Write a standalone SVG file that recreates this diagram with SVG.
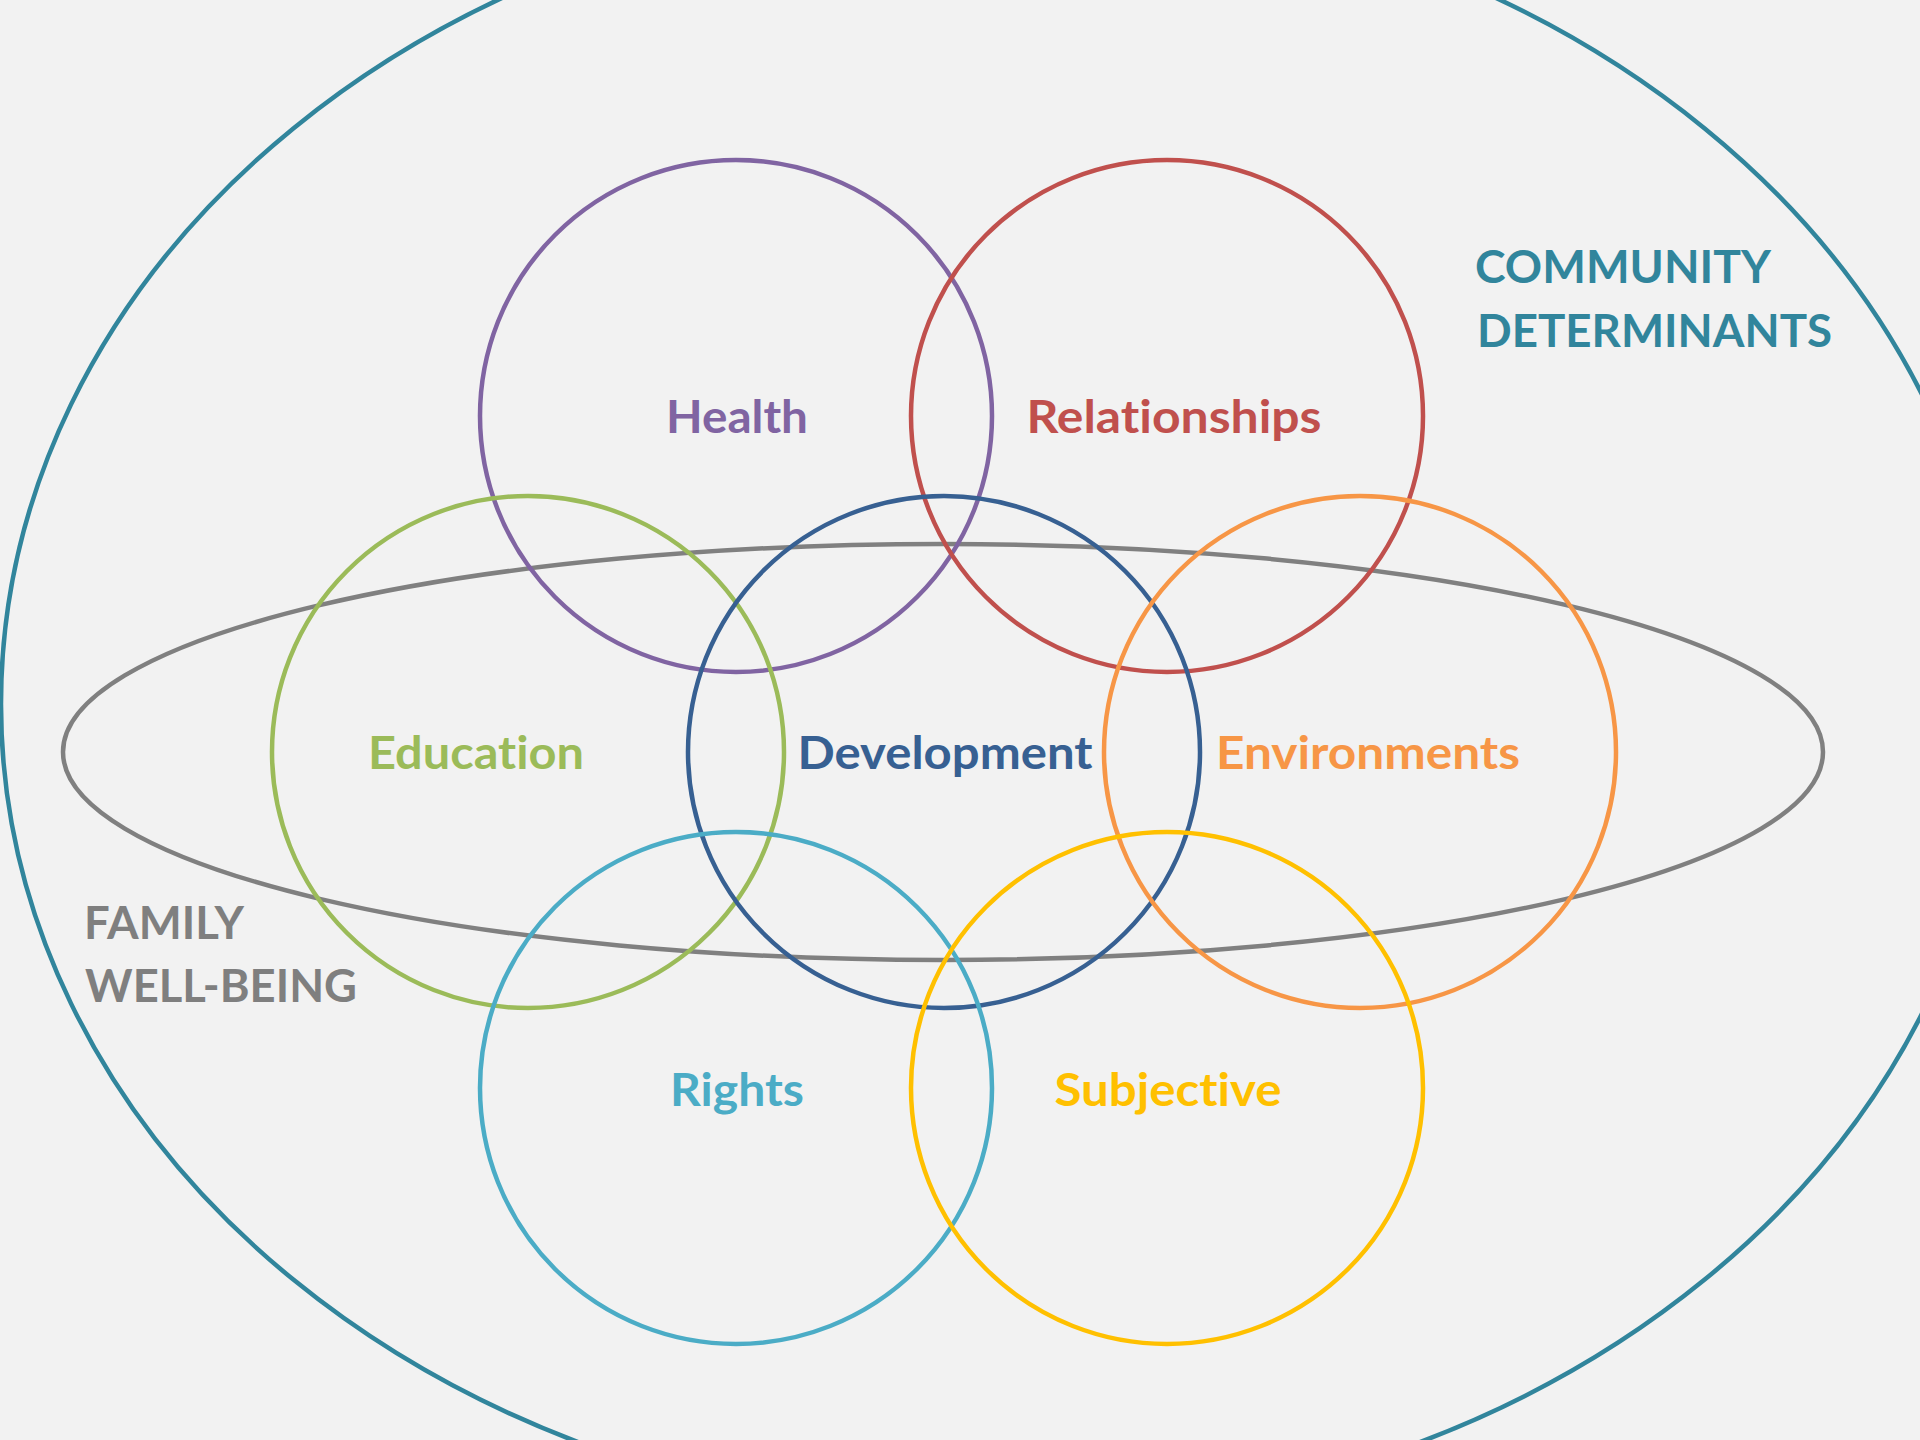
<svg xmlns="http://www.w3.org/2000/svg" width="1920" height="1440" viewBox="0 0 1920 1440">
  <style>
    .ring { fill: none; stroke-width: 4.5; }
    .lbl { font-family: Lato, "Open Sans", "Liberation Sans", sans-serif; font-weight: 700; font-size: 46px; font-variant-ligatures: none; font-feature-settings: "liga" 0, "clig" 0; }
    .mid { text-anchor: middle; }
  </style>
  <rect x="0" y="0" width="1920" height="1440" fill="#F2F2F2"/>
  <g id="community">
    <ellipse class="ring" cx="999" cy="704" rx="998" ry="814" stroke="#31859C"/>
    <text class="lbl" x="1475" y="283" fill="#31859C" textLength="296" lengthAdjust="spacingAndGlyphs">COMMUNITY</text>
    <text class="lbl" x="1477" y="347" fill="#31859C" textLength="355" lengthAdjust="spacingAndGlyphs">DETERMINANTS</text>
  </g>
  <g id="family">
    <ellipse class="ring" cx="943" cy="752" rx="880" ry="208" stroke="#808080"/>
    <text class="lbl" x="84" y="939" fill="#7F7F7F" textLength="160" lengthAdjust="spacingAndGlyphs">FAMILY</text>
    <text class="lbl" x="85" y="1002" fill="#7F7F7F" textLength="272" lengthAdjust="spacingAndGlyphs">WELL-BEING</text>
  </g>
  <g id="health">
    <circle class="ring" cx="736" cy="416" r="256" stroke="#8064A2"/>
    <text class="lbl mid" x="737" y="433" fill="#8064A2" textLength="142" lengthAdjust="spacingAndGlyphs">Health</text>
  </g>
  <g id="relationships">
    <circle class="ring" cx="1167" cy="416" r="256" stroke="#C0504D"/>
    <text class="lbl mid" x="1174" y="433" fill="#C0504D" textLength="295" lengthAdjust="spacingAndGlyphs">Relationships</text>
  </g>
  <g id="education">
    <circle class="ring" cx="528" cy="752" r="256" stroke="#9BBB59"/>
    <text class="lbl mid" x="476" y="769" fill="#9BBB59" textLength="216" lengthAdjust="spacingAndGlyphs">Education</text>
  </g>
  <g id="development">
    <circle class="ring" cx="944" cy="752" r="256" stroke="#376092"/>
    <text class="lbl mid" x="945" y="769" fill="#376092" textLength="295" lengthAdjust="spacingAndGlyphs">Development</text>
  </g>
  <g id="environments">
    <circle class="ring" cx="1360" cy="752" r="256" stroke="#F79646"/>
    <text class="lbl mid" x="1368" y="769" fill="#F79646" textLength="304" lengthAdjust="spacingAndGlyphs">Environments</text>
  </g>
  <g id="rights">
    <circle class="ring" cx="736" cy="1088" r="256" stroke="#4BACC6"/>
    <text class="lbl mid" x="737" y="1106" fill="#4BACC6" textLength="134" lengthAdjust="spacingAndGlyphs">Rights</text>
  </g>
  <g id="subjective">
    <circle class="ring" cx="1167" cy="1088" r="256" stroke="#FFC000"/>
    <text class="lbl mid" x="1168" y="1106" fill="#FFC000" textLength="227" lengthAdjust="spacingAndGlyphs">Subjective</text>
  </g>
  <g id="connectors"/>
</svg>
